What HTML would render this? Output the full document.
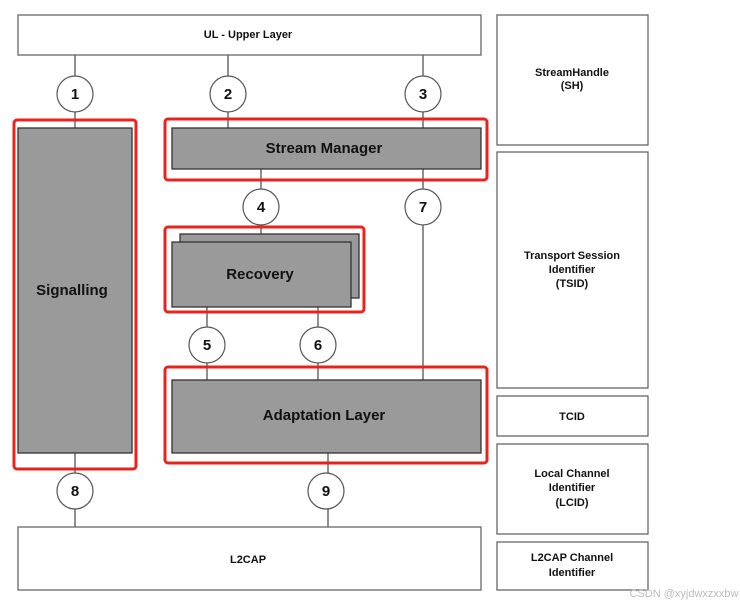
<!DOCTYPE html>
<html><head><meta charset="utf-8"><style>
html,body{margin:0;padding:0;background:#fff;width:740px;height:606px;overflow:hidden}
svg{display:block}
text{font-family:"Liberation Sans",sans-serif;font-weight:bold;fill:#111;text-anchor:middle}
</style></head><body>
<svg width="740" height="606" viewBox="0 0 740 606">
<g stroke="#555" stroke-width="1.3" fill="none">
<!-- connectors -->
<line x1="75" y1="55" x2="75" y2="128"/>
<line x1="228" y1="55" x2="228" y2="128"/>
<line x1="423" y1="55" x2="423" y2="128"/>
<line x1="261" y1="169" x2="261" y2="234"/>
<line x1="423" y1="169" x2="423" y2="380"/>
<line x1="207" y1="307" x2="207" y2="380"/>
<line x1="318" y1="307" x2="318" y2="380"/>
<line x1="75" y1="453" x2="75" y2="527"/>
<line x1="328" y1="453" x2="328" y2="527"/>
</g>
<!-- boxes -->
<g stroke="#666" stroke-width="1.3" fill="#fff">
<rect x="18" y="15" width="463" height="40"/>
<rect x="18" y="527" width="463" height="63"/>
<rect x="497" y="15" width="151" height="130"/>
<rect x="497" y="152" width="151" height="236"/>
<rect x="497" y="396" width="151" height="40"/>
<rect x="497" y="444" width="151" height="90"/>
<rect x="497" y="542" width="151" height="48"/>
</g>
<g stroke="#333" stroke-width="1.3" fill="#9a9a9a">
<rect x="18" y="128" width="114" height="325"/>
<rect x="172" y="128" width="309" height="41"/>
<rect x="180" y="234" width="179" height="64"/>
<rect x="172" y="242" width="179" height="65"/>
<rect x="172" y="380" width="309" height="73"/>
</g>
<!-- red highlights -->
<g stroke="#e8231e" stroke-width="3" fill="none">
<rect x="14" y="120" width="122" height="349" rx="3"/>
<rect x="165" y="119" width="322" height="61" rx="3"/>
<rect x="165" y="227" width="199" height="85" rx="3"/>
<rect x="165" y="367" width="322" height="96" rx="3"/>
</g>
<!-- circles -->
<g stroke="#555" stroke-width="1.2" fill="#fff">
<circle cx="75" cy="94" r="18"/>
<circle cx="228" cy="94" r="18"/>
<circle cx="423" cy="94" r="18"/>
<circle cx="261" cy="207" r="18"/>
<circle cx="423" cy="207" r="18"/>
<ellipse cx="207" cy="345" rx="18" ry="18"/>
<ellipse cx="318" cy="345" rx="18" ry="18"/>
<circle cx="75" cy="491" r="18"/>
<circle cx="326" cy="491" r="18"/>
</g>
<g font-size="15">
<text x="75" y="99">1</text>
<text x="228" y="99">2</text>
<text x="423" y="99">3</text>
<text x="261" y="212">4</text>
<text x="423" y="212">7</text>
<text x="207" y="350">5</text>
<text x="318" y="350">6</text>
<text x="75" y="496">8</text>
<text x="326" y="496">9</text>
</g>
<g font-size="11">
<text x="248" y="38">UL - Upper Layer</text>
<text x="248" y="563">L2CAP</text>
</g>
<g font-size="15">
<text x="324" y="153">Stream Manager</text>
<text x="260" y="279">Recovery</text>
<text x="72" y="295">Signalling</text>
<text x="324" y="420">Adaptation Layer</text>
</g>
<g font-size="11">
<text x="572" y="76">StreamHandle</text>
<text x="572" y="89">(SH)</text>
<text x="572" y="259">Transport Session</text>
<text x="572" y="273">Identifier</text>
<text x="572" y="287">(TSID)</text>
<text x="572" y="420">TCID</text>
<text x="572" y="477">Local Channel</text>
<text x="572" y="491">Identifier</text>
<text x="572" y="506">(LCID)</text>
<text x="572" y="561">L2CAP Channel</text>
<text x="572" y="576">Identifier</text>
</g>
<text x="684" y="597" font-size="11" style="font-weight:normal;fill:#bbb">CSDN @xyjdwxzxxbw</text>
</svg>
</body></html>
